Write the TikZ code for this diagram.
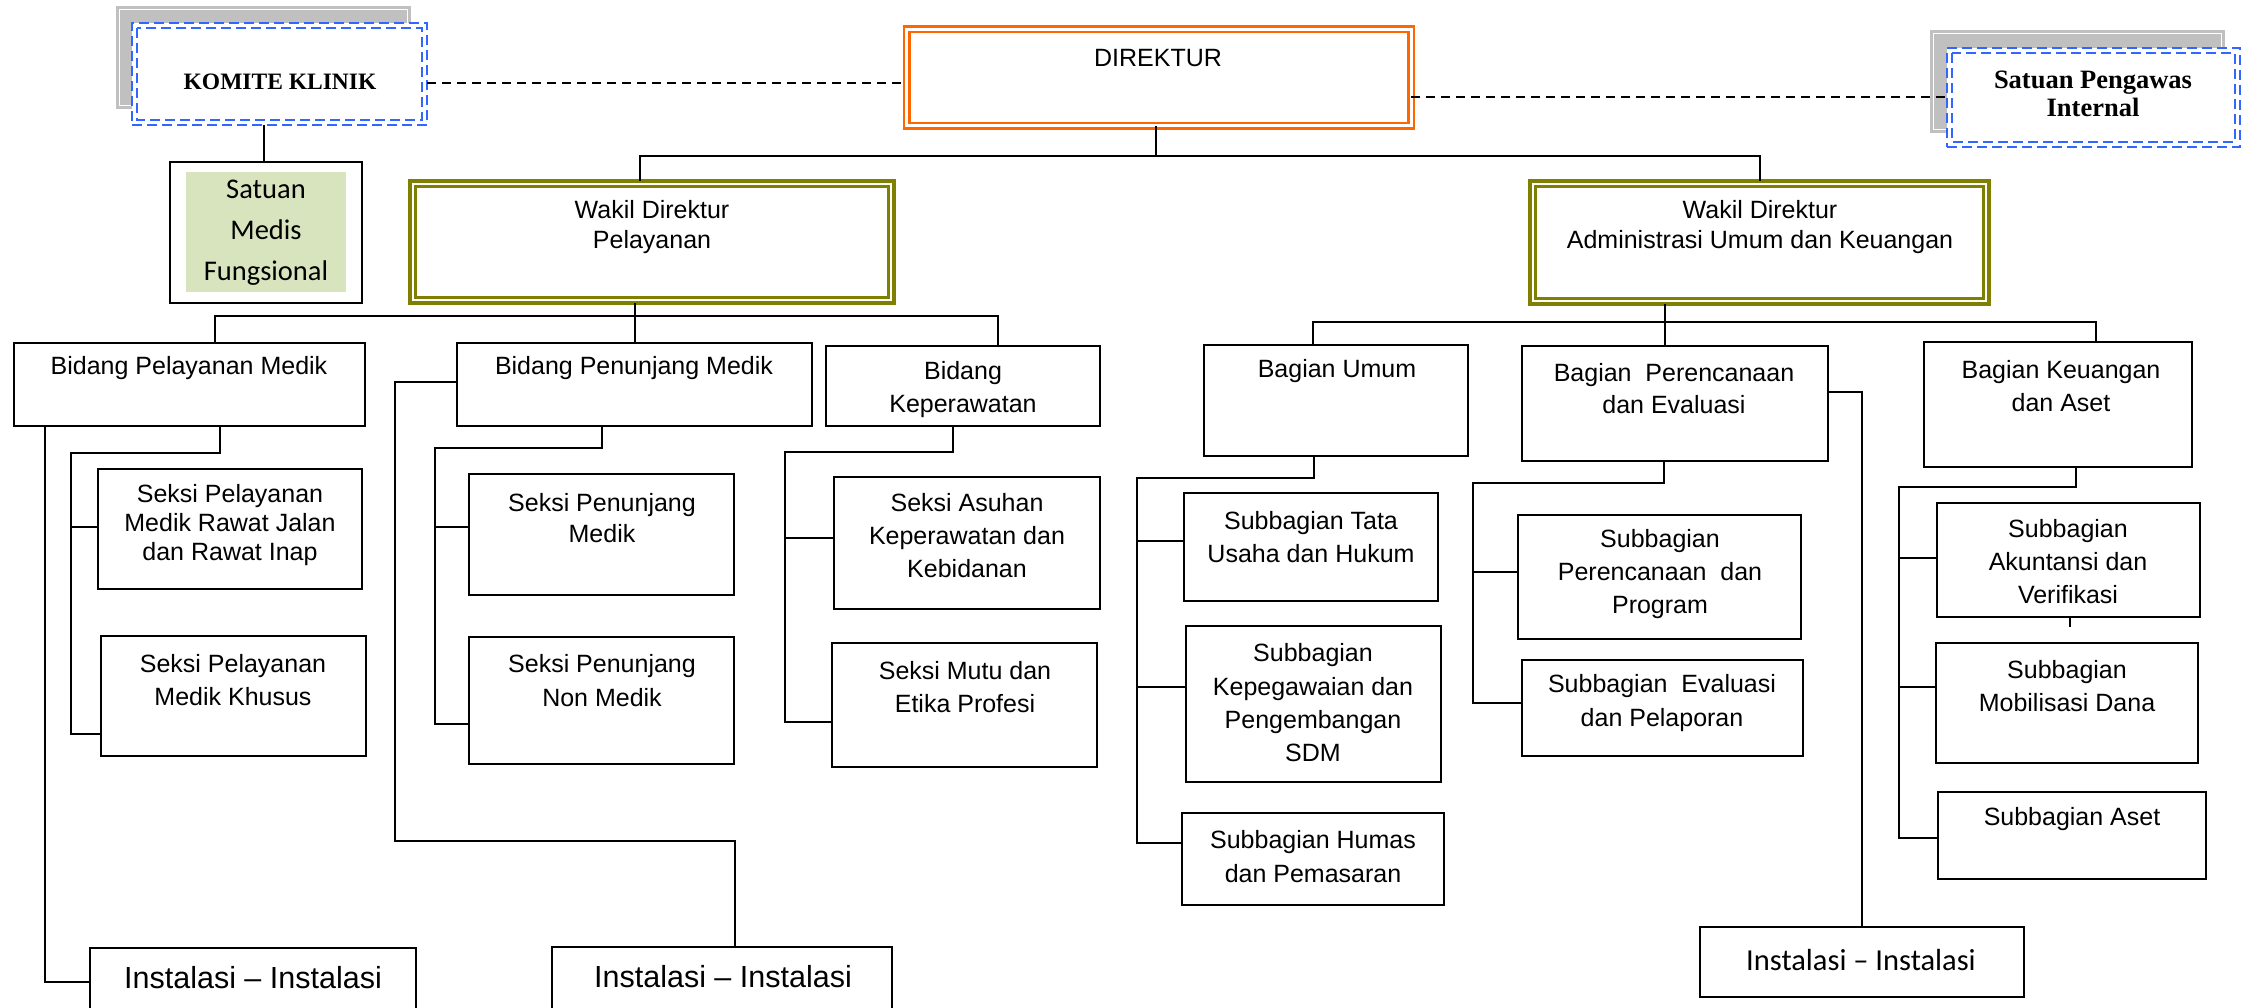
\documentclass[tikz,border=0pt]{standalone}
\usepackage{fontspec}
\setmainfont{Liberation Sans}
\newfontfamily\calfont{Carlito}
\newfontfamily\serfont{Liberation Serif}
\definecolor{orgc}{RGB}{255,102,0}
\definecolor{olivc}{RGB}{128,128,0}
\definecolor{bluec}{RGB}{51,102,255}
\definecolor{greenc}{RGB}{215,228,189}
\definecolor{grayc}{RGB}{192,192,192}
\newcommand\boxat[6][]{\node[bx,#1,minimum width={(#5)-(#3)},minimum height={(#6)-(#4)}] (#2) at ({((#3)+(#5))/2},{((#4)+(#6))/2}) {};}
\tikzset{
  bx/.style={draw, line width=2.4pt, inner sep=0pt, outer sep=0pt},
  ln/.style={line width=2.2pt},
  dashln/.style={line width=2pt, dash pattern=on 9pt off 6pt},
  tx/.style={align=center, inner sep=0pt, font=\fontsize{25}{33}\selectfont},
  graybox/.style={draw=none, fill=grayc},
  bluebox/.style={draw=bluec, fill=white, line width=2.5pt, dash pattern=on 10pt off 5pt},
  bluedash/.style={draw=bluec, line width=2.5pt, dash pattern=on 10pt off 5pt},
  orgbox/.style={draw=orgc, line width=2.5pt, double=white, double distance=3pt},
  olibox/.style={draw=olivc, line width=4pt},
  oliin/.style={draw=olivc, line width=2.2pt},
  greenfill/.style={draw=none, fill=greenc},
  instbox/.style={line width=2.4pt},
}
\begin{document}
\begin{tikzpicture}[x=1pt,y=-1pt]
\useasboundingbox (0,0) rectangle (2251,1007);
\clip (0,0) rectangle (2251,1007);
\fill[white] (0,0) rectangle (2251,1007);

% ---- Komite Klinik
\boxat[graybox]{kks}{116}{6}{411}{109}
\draw[white, line width=1pt] ([shift={(3.5,3.5)}]kks.north west) rectangle ([shift={(-3.5,-3.5)}]kks.south east);
\boxat[bluebox]{kk}{132}{23}{427}{125}
\draw[bluedash] ([shift={(5,5)}]kk.north west) rectangle ([shift={(-5,-5)}]kk.south east);
\node[tx, font=\serfont\bfseries\fontsize{23.5}{28}\selectfont] (kkt) at (280,82) {KOMITE KLINIK};

% ---- SPI
\boxat[graybox]{spis}{1930}{30}{2225}{133}
\draw[white, line width=1pt] ([shift={(3.5,3.5)}]spis.north west) rectangle ([shift={(-3.5,-3.5)}]spis.south east);
\boxat[bluebox]{spi}{1947}{48}{2240}{147}
\draw[bluedash] ([shift={(5,5)}]spi.north west) rectangle ([shift={(-5,-5)}]spi.south east);
\node[tx, font=\serfont\bfseries\fontsize{26.5}{28}\selectfont] (spit) at (2093,94) {Satuan Pengawas\\Internal};

% ---- Direktur
\boxat[orgbox]{dir}{906.5}{29}{1411}{125.5}
\node[tx] (dirt) at (1158,58) {DIREKTUR};

% ---- Satuan Medis Fungsional
\boxat{smf}{170}{162}{362}{303}
\boxat[greenfill]{smfg}{186}{172}{346}{292}
\node[tx, font=\calfont\fontsize{28.5}{41}\selectfont] (smft) at (266,233) {Satuan\\Medis\\Fungsional};

% ---- Wakil Direktur
\boxat[olibox]{wkp}{410}{181}{894}{303}
\draw[oliin] ([shift={(5.5,5.5)}]wkp.north west) rectangle ([shift={(-5.5,-5.5)}]wkp.south east);
\node[tx, font=\fontsize{25}{30}\selectfont] (wkpt) at (652,227) {Wakil Direktur\\Pelayanan};
\boxat[olibox]{wka}{1530}{181}{1989}{304}
\draw[oliin] ([shift={(5.5,5.5)}]wka.north west) rectangle ([shift={(-5.5,-5.5)}]wka.south east);
\node[tx, font=\fontsize{25}{30}\selectfont] (wkat) at (1760,227) {Wakil Direktur\\Administrasi Umum dan Keuangan};

% ---- Bidang
\boxat{bpm}{14}{343}{365}{426}
\node[tx] (bpmt) at (189,368) {Bidang Pelayanan Medik};
\boxat{bpn}{457}{343}{812}{426}
\node[tx] (bpnt) at (634,368) {Bidang Penunjang Medik};
\boxat{bkp}{826}{346}{1100}{426}
\node[tx] (bkpt) at (963,390) {Bidang\\Keperawatan};

% ---- Seksi
\boxat{sk1}{98}{469}{362}{589}
\node[tx, font=\fontsize{25}{29}\selectfont] (sk1t) at (230,525) {Seksi Pelayanan\\Medik Rawat Jalan\\dan Rawat Inap};
\boxat{sk2}{101}{636}{366}{756}
\node[tx] (sk2t) at (233,680) {Seksi Pelayanan\\Medik Khusus};
\boxat{spm}{469}{474}{734}{595}
\node[tx, font=\fontsize{25}{31}\selectfont] (spmt) at (602,518) {Seksi Penunjang\\Medik};
\boxat{snm}{469}{637}{734}{764}
\node[tx, font=\fontsize{25}{34}\selectfont] (snmt) at (602,681) {Seksi Penunjang\\Non Medik};
\boxat{sas}{834}{477}{1100}{609}
\node[tx] (sast) at (967,536) {Seksi Asuhan\\Keperawatan dan\\Kebidanan};
\boxat{smu}{832}{643}{1097}{767}
\node[tx] (smut) at (965,687) {Seksi Mutu dan\\Etika Profesi};

% ---- Bagian
\boxat{bum}{1204}{345}{1468}{456}
\node[tx] (bumt) at (1337,371) {Bagian Umum};
\boxat{bpr}{1522}{346}{1828}{461}
\node[tx, font=\fontsize{25}{32}\selectfont] (bprt) at (1674,389) {Bagian~ Perencanaan\\dan Evaluasi};
\boxat{bku}{1924}{342}{2192}{467}
\node[tx] (bkut) at (2061,386) {Bagian Keuangan\\dan Aset};

% ---- Subbagian
\boxat{stu}{1184}{493}{1438}{601}
\node[tx] (stut) at (1311,537) {Subbagian Tata\\Usaha dan Hukum};
\boxat{skp}{1186}{626}{1441}{782}
\node[tx, font=\fontsize{25}{33.3}\selectfont] (skpt) at (1313,703) {Subbagian\\Kepegawaian dan\\Pengembangan\\SDM};
\boxat{shu}{1182}{813}{1444}{905}
\node[tx, font=\fontsize{25}{34}\selectfont] (shut) at (1313,857) {Subbagian Humas\\dan Pemasaran};
\boxat{spp}{1518}{515}{1801}{639}
\node[tx] (sppt) at (1660,574) {Subbagian\\Perencanaan~ dan\\Program};
\boxat{sev}{1522}{660}{1803}{756}
\node[tx, font=\fontsize{25}{34}\selectfont] (sevt) at (1662,703) {Subbagian~ Evaluasi\\dan Pelaporan};
\boxat{sak}{1937}{503}{2200}{617}
\node[tx] (sakt) at (2068,562) {Subbagian\\Akuntansi dan\\Verifikasi};
\boxat{smo}{1936}{643}{2198}{763}
\node[tx] (smot) at (2067,686) {Subbagian\\Mobilisasi Dana};
\boxat{sat}{1938}{792}{2206}{879}
\node[tx] (satt) at (2072,819) {Subbagian Aset};

% ---- Instalasi
\boxat{inst1}{90}{948}{416}{1016}
\node[tx, font=\fontsize{30.5}{34}\selectfont] (inst1t) at (253,978) {Instalasi – Instalasi};
\boxat{inst2}{552}{947}{892}{1015}
\node[tx, font=\fontsize{30.5}{34}\selectfont] (inst2t) at (723,977) {Instalasi – Instalasi};
\boxat{inst3}{1700}{927}{2024}{997}
\node[tx, font=\calfont\fontsize{30.5}{34}\selectfont] (inst3t) at (1861,960) {Instalasi – Instalasi};

% ================= connectors
\draw[dashln] (kk.east |- 0,83) -- (dir.west |- 0,83);
\draw[dashln] (dir.east |- 0,97) -- (spi.west |- 0,97);
\draw[ln] (kk.south -| 264,0) -- (smf.north -| 264,0);

\coordinate (j1) at (640,156);
\coordinate (j2) at (1760,156);
\draw[ln] (dir.south -| 1156,0) -- (1156,156);
\draw[ln] (wkp.north -| j1) |- (j2) -- (wka.north -| j2);

\coordinate (j3) at (215,316);
\coordinate (j4) at (998,316);
\draw[ln] (wkp.south -| 635,0) -- (bpn.north -| 635,0);
\draw[ln] (bpm.north -| j3) |- (j4) -- (bkp.north -| j4);

\coordinate (j5) at (1313,322);
\coordinate (j6) at (2096,322);
\draw[ln] (wka.south -| 1665,0) -- (bpr.north -| 1665,0);
\draw[ln] (bum.north -| j5) |- (j6) -- (bku.north -| j6);

% Bidang Pelayanan Medik
\draw[ln] (bpm.south -| 45,0) |- (inst1.west);
\draw[ln] (bpm.south -| 220,0) -- (220,453) -| (71,734) -- (sk2.west |- 0,734);
\draw[ln] (71,527) -- (sk1.west |- 0,527);

% Bidang Penunjang Medik
\draw[ln] (bpn.west |- 0,382) -| (395,841) -| (inst2.north -| 735,0);
\draw[ln] (bpn.south -| 602,0) -- (602,448) -| (435,724) -- (snm.west |- 0,724);
\draw[ln] (435,527) -- (spm.west |- 0,527);

% Bidang Keperawatan
\draw[ln] (bkp.south -| 953,0) -- (953,452) -| (785,722) -- (smu.west |- 0,722);
\draw[ln] (785,538) -- (sas.west |- 0,538);

% Bagian Umum
\draw[ln] (bum.south -| 1314,0) -- (1314,478) -| (1137,843) -- (shu.west |- 0,843);
\draw[ln] (1137,541) -- (stu.west |- 0,541);
\draw[ln] (1137,687) -- (skp.west |- 0,687);

% Bagian Perencanaan
\draw[ln] (bpr.south -| 1664,0) -- (1664,483) -| (1473,703) -- (sev.west |- 0,703);
\draw[ln] (1473,572) -- (spp.west |- 0,572);
\draw[ln] (bpr.east |- 0,392) -| (inst3.north);

% Bagian Keuangan
\draw[ln] (bku.south -| 2076,0) -- (2076,487) -| (1899,838) -- (sat.west |- 0,838);
\draw[ln] (1899,558) -- (sak.west |- 0,558);
\draw[ln] (1899,687) -- (smo.west |- 0,687);
\draw[ln] (sak.south -| 2070,0) -- ++(0,10);
\end{tikzpicture}
\end{document}
